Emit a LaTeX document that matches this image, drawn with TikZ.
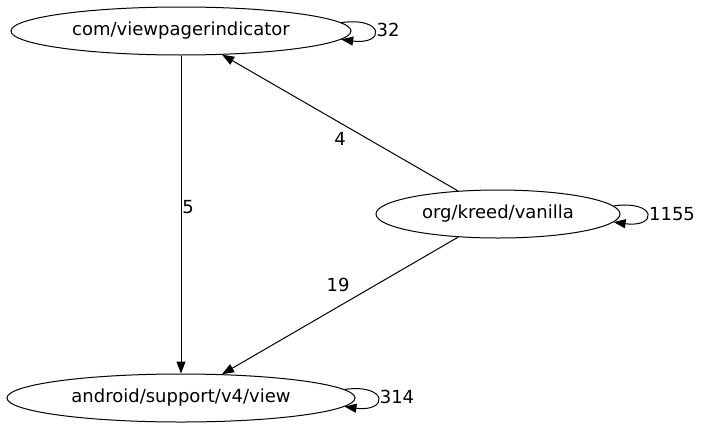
\documentclass[tikz,border=0pt]{standalone}
\usepackage{fontspec}
\setmainfont{DejaVu Sans}
\usetikzlibrary{shapes.geometric,arrows.meta}
\begin{document}
\begin{tikzpicture}[x=1pt, y=-1pt,
		pkg/.style={draw, ellipse, inner sep=0pt, line width=1pt, font=\fontsize{18pt}{20pt}\selectfont},
		dep/.style={draw, line width=1pt, -{Triangle[length=12pt,width=9pt]}},
		cnt/.style={font=\fontsize{18pt}{20pt}\selectfont, inner sep=0pt}]
			\useasboundingbox (0,0) rectangle (703,431);
			% PACKAGES
			\node[pkg, minimum width=340pt, minimum height=48pt] (vpi) at (181, 31) {com/viewpagerindicator};
			\node[pkg, minimum width=244pt, minimum height=48pt] (kv) at (498, 214) {org/kreed/vanilla};
			\node[pkg, minimum width=348pt, minimum height=48pt] (v4) at (181, 398) {android/support/v4/view};
			
			% DRAW DEPENDENCIES
			\path[dep] (vpi) -- (v4); \path[dep] (kv) -- (vpi); \path[dep] (kv) -- (v4);
			
			% DRAW SELF LOOPS
			\path[dep] (vpi.3) .. controls +(44pt,6pt) and +(44pt,-6pt) .. (vpi.-3);
			\path[dep] (kv.4) .. controls +(44pt,6pt) and +(44pt,-6pt) .. (kv.-4);
			\path[dep] (v4.3) .. controls +(44pt,6pt) and +(44pt,-6pt) .. (v4.-3);
			
			% DRAW COUNTS
			\node[cnt] (n32) at (388, 30) {32}; \node[cnt] (n1155) at (672, 214) {1155};
			\node[cnt] (n314) at (397, 397) {314}; \node[cnt] (n5) at (188, 207) {5};
			\node[cnt] (n4) at (340, 139) {4}; \node[cnt] (n19) at (338, 285) {19};
		\end{tikzpicture}
\end{document}
